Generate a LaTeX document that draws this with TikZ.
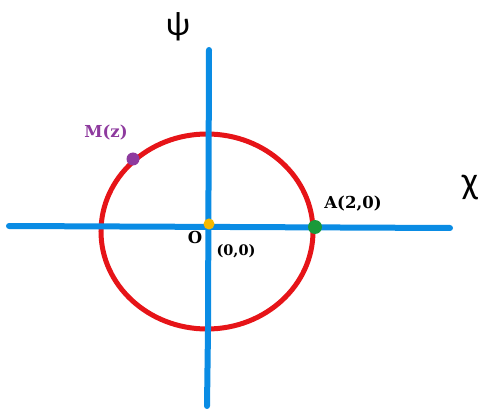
\documentclass[tikz,border=0pt]{standalone}
\usepackage{fontspec}
\newfontfamily\greekfont{Carlito}
\newfontfamily\labelfont{DejaVu Serif}
\definecolor{axisblue}{RGB}{10,140,228}
\definecolor{circred}{RGB}{230,20,24}
\definecolor{mpurple}{RGB}{142,58,158}
\definecolor{agreen}{RGB}{26,154,58}
\definecolor{oyellow}{RGB}{245,185,0}
\begin{document}
\begin{tikzpicture}[x=1pt,y=-1pt,
  axis/.style={draw=axisblue,line width=6pt,line cap=round},
  circ/.style={draw=circred,line width=5pt},
  dot/.style={circle,inner sep=0pt,minimum size=13pt},
  lbl/.style={inner sep=0pt,font=\labelfont\bfseries\fontsize{16.5}{18}\selectfont},
  axlbl/.style={inner sep=0pt,font=\greekfont\fontsize{34}{36}\selectfont}]
\useasboundingbox (0,0) rectangle (480,409);
% coordinates
\coordinate (xl) at (9,226);
\coordinate (xm) at (230,227);
\coordinate (xr) at (450,228);
\coordinate (yt) at (209,50);
\coordinate (ym) at (208,330);
\coordinate (yb) at (207,406);
\coordinate (c) at (207,231.5);
% circle
\draw[circ] (c) ellipse [x radius=106, y radius=97.5];
% axes
\draw[axis] (xl) -- (xm) -- (xr);
\draw[axis] (yt) -- (ym) -- (yb);
% dots
\node[dot,fill=mpurple] (mdot) at (133,159) {};
\node[dot,fill=agreen,minimum size=14pt] (adot) at (315,227) {};
\node[dot,fill=oyellow,minimum size=11pt] (odot) at (209,224) {};
% labels
\node[axlbl] (psi) at (178,27) {ψ};
\node[axlbl,font=\greekfont\fontsize{38}{40}\selectfont] (chi) at (470,188) {χ};
\node[lbl,text=mpurple] (mlab) at (106,133) {M(z)};
\node[lbl] (alab) at (353,204) {A(2,0)};
\node[lbl] (olab) at (195,237) {O};
\node[lbl,font=\labelfont\bfseries\fontsize{14.5}{16}\selectfont] (zlab) at (236,251) {(0,0)};
\end{tikzpicture}
\end{document}
